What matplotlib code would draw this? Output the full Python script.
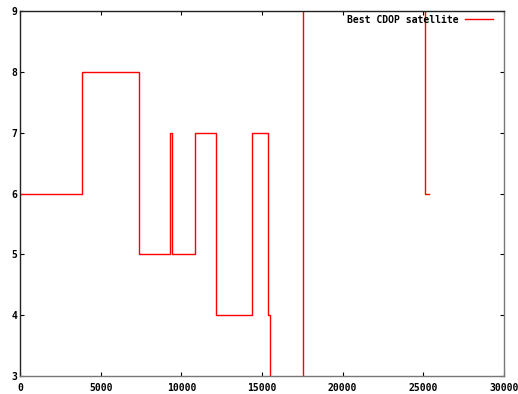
import numpy as np
import matplotlib
matplotlib.use('Agg')
import matplotlib.pyplot as plt

# step changes of the best CDOP satellite (values outside 3..9 run off the plot)
times = [0, 3860, 7360, 9280, 9420, 10870, 12130, 14360, 15390, 15520, 17520, 25130, 25370]
sats = [6, 8, 5, 7, 5, 7, 4, 7, 4, 0, 12, 6, 6]

x_ticks = [0, 5000, 10000, 15000, 20000, 25000, 30000]
y_ticks = [3, 4, 5, 6, 7, 8, 9]

fig = plt.figure(figsize=(5.18, 3.94), dpi=100)
ax = fig.add_axes([20/518, 18/394, 484/518, 365/394])

ax.step(times, sats, where='post', color='#ff0000', lw=1, label='Best CDOP satellite')

ax.set_xlim(0, 30000)
ax.set_ylim(3, 9)
ax.set_xticks(x_ticks)
ax.set_yticks(y_ticks)

font = {'family': 'DejaVu Sans Mono', 'weight': 'bold', 'size': 7}
ax.set_xticklabels([str(t) for t in x_ticks], fontdict=font)
ax.set_yticklabels([str(t) for t in y_ticks], fontdict=font)
ax.tick_params(direction='in', length=3, width=0.8, top=True, right=True, pad=2)
ax.tick_params(axis='x', pad=5)

for side in ['left', 'top']:
    ax.spines[side].set_color('#222222')
for side in ['bottom', 'right']:
    ax.spines[side].set_color('#777777')
for s in ax.spines.values():
    s.set_linewidth(1)

leg = ax.legend(loc='upper right', bbox_to_anchor=(0.9855, 1.0), frameon=False,
                markerfirst=False, prop=font, handlelength=2.9, borderaxespad=0,
                handletextpad=0.6)

fig.savefig('out.png', dpi=100)
